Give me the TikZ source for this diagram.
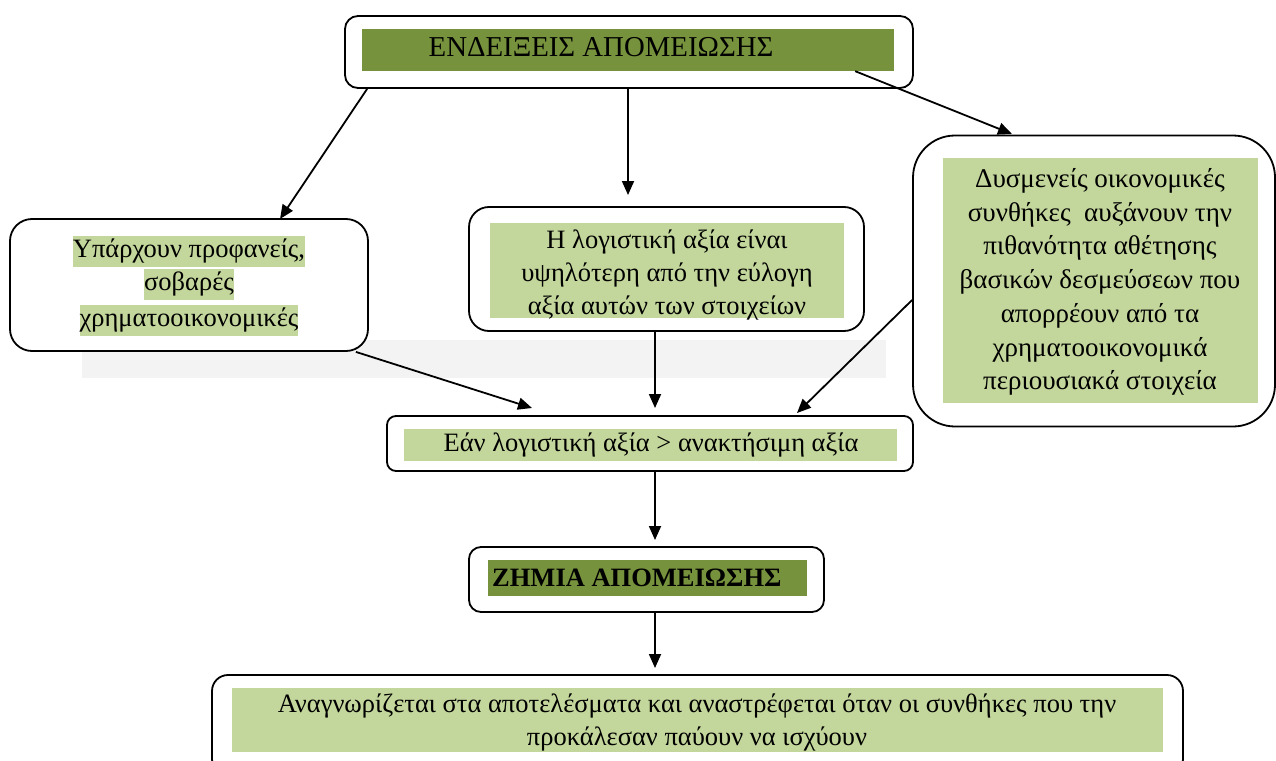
\documentclass[tikz,border=0pt]{standalone}
\usepackage{fontspec}
\setmainfont{Liberation Serif}
\usetikzlibrary{calc,arrows.meta}
\definecolor{lightolive}{HTML}{C3D69B}
\definecolor{darkolive}{HTML}{76923C}
\definecolor{paleband}{HTML}{F3F3F3}
\tikzset{
  frame/.style={draw, line width=1.8pt, fill=white, inner sep=0pt},
  band/.style={fill=#1, inner sep=0pt, draw=none},
  arr/.style={line width=1.8pt, -{Triangle[length=14pt,width=12pt]}},
  body/.style={font=\fontsize{26.5}{33.5}\selectfont, align=center, inner sep=0pt},
  hl/.style={fill=lightolive, inner sep=0pt, text height=22pt, text depth=9pt,
             font=\fontsize{26.5}{33}\selectfont},
}
\begin{document}
\begin{tikzpicture}[x=1pt,y=-1pt]
\useasboundingbox (0,0) rectangle (1276,760);

% pale strip behind the middle row
\fill[paleband] (82,340) rectangle (886,378);

% top box
\node[frame, rounded corners=13pt, minimum width=568pt, minimum height=72pt] (top) at (629,52) {};
\node[band=darkolive, minimum width=532pt, minimum height=42pt] (topband) at (628,50) {};
\node[font=\fontsize{28.8}{34}\selectfont, inner sep=0pt] (toptext) at (601,47) {ΕΝΔΕΙΞΕΙΣ ΑΠΟΜΕΙΩΣΗΣ};

% left box
\node[frame, rounded corners=22pt, minimum width=358pt, minimum height=132pt] (left) at (189,285) {};
\node[hl] (l1) at (189,251) {Υπάρχουν προφανείς,};
\node[hl] (l2) at (189,284) {σοβαρές};
\node[hl] (l3) at (189,320) {χρηματοοικονομικές};

% middle box
\node[frame, rounded corners=20pt, minimum width=395pt, minimum height=124pt] (mid) at (666.5,269) {};
\node[band=lightolive, minimum width=354pt, minimum height=95pt] (midband) at (667,270.5) {};
\node[body, font=\fontsize{26.5}{33}\selectfont] (midtext) at (667,275) {Η λογιστική αξία είναι\\υψηλότερη από την εύλογη\\αξία αυτών των στοιχείων};

% right box
\node[frame, rounded corners=42pt, minimum width=362pt, minimum height=291pt] (right) at (1094,281) {};
\node[band=lightolive, minimum width=315pt, minimum height=245pt] (rightband) at (1100.5,280.5) {};
\node[body, font=\fontsize{27}{33.7}\selectfont] (righttext) at (1100,282) {Δυσμενείς οικονομικές\\συνθήκες\ \ αυξάνουν την\\πιθανότητα αθέτησης\\βασικών δεσμεύσεων που\\απορρέουν από τα\\χρηματοοικονομικά\\περιουσιακά στοιχεία};

% condition box
\node[frame, rounded corners=9pt, minimum width=526pt, minimum height=55pt] (cond) at (650,443.5) {};
\node[band=lightolive, minimum width=493pt, minimum height=32pt] (condband) at (650.5,445) {};
\node[body] (condtext) at (651,445) {Εάν λογιστική αξία > ανακτήσιμη αξία};

% loss box
\node[frame, rounded corners=12pt, minimum width=355pt, minimum height=65pt] (loss) at (646.5,579.5) {};
\node[band=darkolive, minimum width=319pt, minimum height=36pt] (lossband) at (647.5,578) {};
\node[font=\fontsize{26.5}{30}\selectfont\bfseries, anchor=west, inner sep=0pt] (losstext) at (492,578) {ΖΗΜΙΑ ΑΠΟΜΕΙΩΣΗΣ};

% recognition box
\node[frame, rounded corners=16pt, minimum width=971pt, minimum height=100pt] (rec) at (697.5,725) {};
\node[band=lightolive, minimum width=931pt, minimum height=64pt] (recband) at (697.5,720) {};
\node[body, font=\fontsize{26.5}{33}\selectfont] (rectext) at (697,722)
  {Αναγνωρίζεται στα αποτελέσματα και αναστρέφεται όταν οι συνθήκες που την\\
   προκάλεσαν παύουν να ισχύουν};

% arrow end points
\coordinate (aMid) at (628,195);
\coordinate (aCondL) at (532,408);
\coordinate (aCondM) at (655,408);
\coordinate (aCondR) at (797,413);
\coordinate (aLoss) at (655,540);
\coordinate (aRec) at (655,668);
\coordinate (aRight) at (1012,134);
\coordinate (aLeft) at (280,219);

% connectors
\draw[arr] ($(top.south west)+(23,0)$) -- (aLeft);
\draw[arr] (top.south -| aMid) -- (aMid);
\draw[arr] ($(topband.south east)+(-39,0)$) -- (aRight);
\draw[arr] ($(left.south east)+(-13,0)$) -- (aCondL);
\draw[arr] (mid.south -| aCondM) -- (aCondM);
\draw[arr] (right.west |- 0,300) -- (aCondR);
\draw[arr] (cond.south -| aLoss) -- (aLoss);
\draw[arr] (loss.south -| aRec) -- (aRec);
\end{tikzpicture}
\end{document}
